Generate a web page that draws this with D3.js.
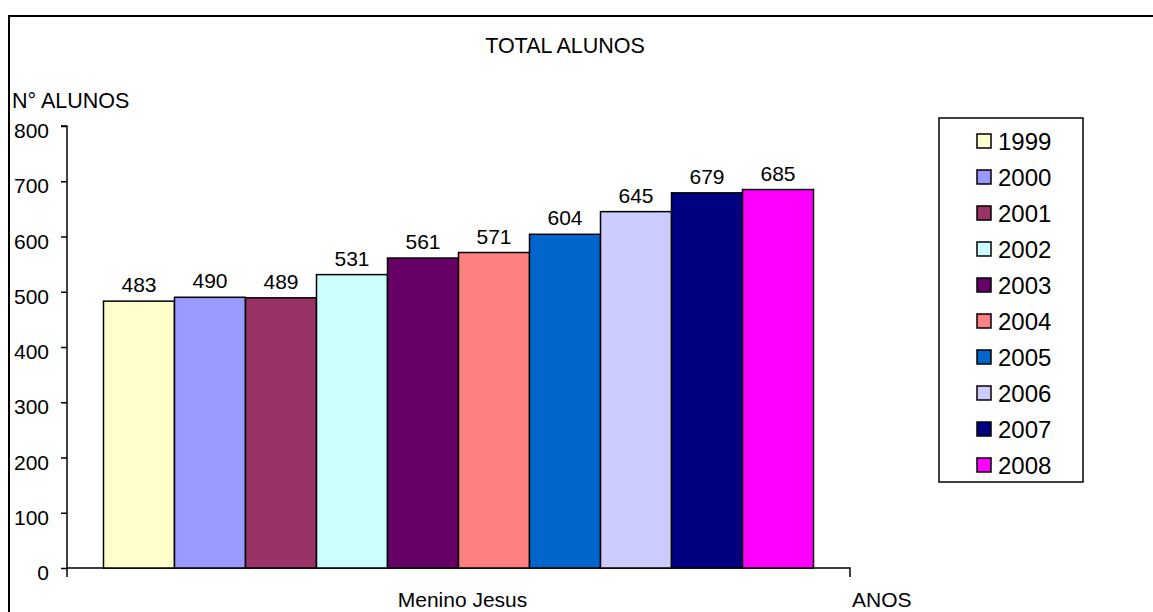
<!DOCTYPE html>
<html>
<head>
<meta charset="utf-8">
<script src="https://cdn.jsdelivr.net/npm/d3@7"></script>
<style>
  html, body { margin: 0; padding: 0; background: #fff; }
  svg { display: block; font-family: "Liberation Sans", Arial, sans-serif; }
</style>
</head>
<body>
<svg id="chart" width="1153" height="612"></svg>
<script>
const categories = ["Menino Jesus"];
const years = ["1999","2000","2001","2002","2003","2004","2005","2006","2007","2008"];
const values = [483, 490, 489, 531, 561, 571, 604, 645, 679, 685];
const colors = ["#FFFFCC","#9999FF","#993366","#CCFFFF","#660066","#FF8080","#0066CC","#CCCCFF","#000080","#FF00FF"];
const yTicks = [0,100,200,300,400,500,600,700,800];
const title = "TOTAL ALUNOS";
const yTitle = "N° ALUNOS";
const xTitle = "ANOS";

(function () {
const svg = d3.select("#chart");

// outer frame
svg.append("rect").attr("x", 9).attr("y", 16).attr("width", 1300).attr("height", 800)
  .attr("fill", "none").attr("stroke", "#000").attr("stroke-width", 2);

const pl = 67, pr = 850, pt = 126, pb = 568;

const y = d3.scaleLinear().domain([0, 800]).range([pb, pt]);
const x0 = d3.scaleBand().domain(categories).range([pl, pr]).paddingInner(0).paddingOuter(0.0514);
const x1 = d3.scaleBand().domain(years).range([0, x0.bandwidth()]).padding(0);

// y axis
const yAxis = d3.axisLeft(y).tickValues(yTicks).tickSize(6).tickPadding(12).tickFormat(d3.format("d"));
const ya = svg.append("g").attr("transform", `translate(${pl},0)`).call(yAxis);
ya.select(".domain").attr("stroke", "#000").attr("stroke-width", 1.5).attr("d", `M-6,${pt}H0V${pb + 9}`);
ya.selectAll(".tick line").attr("stroke", "#000").attr("stroke-width", 1.5);
ya.selectAll(".tick text").attr("font-size", 21).attr("fill", "#000").attr("dy", "0.55em")
  .attr("font-family", "Liberation Sans, Arial, sans-serif");

// x axis
const xAxis = d3.axisBottom(x0).tickSize(0).tickFormat("");
const xa = svg.append("g").attr("transform", `translate(0,${pb})`).call(xAxis);
xa.select(".domain").attr("stroke", "#000").attr("stroke-width", 1.5).attr("d", `M${pl},0H${pr}V9`);

// bars
const g = svg.append("g");
categories.forEach(cat => {
  years.forEach((yr, i) => {
    const bx = x0(cat) + x1(yr);
    g.append("rect")
      .attr("x", bx).attr("y", y(values[i]))
      .attr("width", x1.bandwidth()).attr("height", y(0) - y(values[i]))
      .attr("fill", colors[i]).attr("stroke", "#000").attr("stroke-width", 1.5);
    g.append("text")
      .attr("x", bx + x1.bandwidth() / 2).attr("y", y(values[i]) - 9)
      .attr("text-anchor", "middle").attr("font-size", 21).attr("fill", "#000")
      .text(values[i]);
  });
  svg.append("text").attr("x", x0(cat) + x0.bandwidth() / 2 + 4).attr("y", 607)
    .attr("text-anchor", "middle").attr("font-size", 21).text(cat);
});

// titles
svg.append("text").attr("x", 565).attr("y", 53).attr("text-anchor", "middle").attr("font-size", 21.5).text(title);
svg.append("text").attr("x", 12).attr("y", 108).attr("font-size", 21.5).text(yTitle);
svg.append("text").attr("x", 852).attr("y", 607).attr("font-size", 21).text(xTitle);

// legend
const lg = svg.append("g");
lg.append("rect").attr("x", 939).attr("y", 118).attr("width", 144).attr("height", 364)
  .attr("fill", "#fff").attr("stroke", "#000").attr("stroke-width", 1.5);
const ly = d3.scalePoint().domain(years).range([141, 465]);
years.forEach((yr, i) => {
  lg.append("rect").attr("x", 977).attr("y", ly(yr) - 7).attr("width", 14).attr("height", 14)
    .attr("fill", colors[i]).attr("stroke", "#000").attr("stroke-width", 1.5);
  lg.append("text").attr("x", 998).attr("y", ly(yr) + 8.5).attr("font-size", 24).text(yr);
});
})();
</script>
</body>
</html>
